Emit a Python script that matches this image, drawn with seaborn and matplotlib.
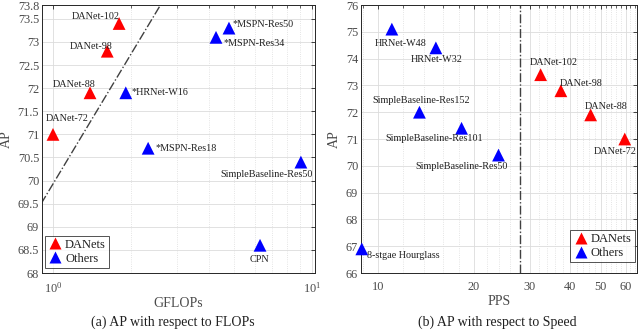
import numpy as np
import pandas as pd
import matplotlib
matplotlib.use("Agg")
import matplotlib.pyplot as plt
import seaborn as sns
from matplotlib.ticker import FixedLocator, NullFormatter, LogLocator, FuncFormatter

# ---------------- data ----------------
flops_models = ["DANet-72", "DANet-88", "DANet-98", "DANet-102",
                "*HRNet-W16", "*MSPN-Res18", "*MSPN-Res34", "*MSPN-Res50",
                "SimpleBaseline-Res50", "CPN"]
flops_groups = ["DANets"] * 4 + ["Others"] * 6
flops_gflops = [1.0, 1.39, 1.62, 1.80, 1.91, 2.33, 4.26, 4.78, 9.06, 6.3]
flops_ap = [71.0, 71.9, 72.8, 73.4, 71.9, 70.7, 73.1, 73.3, 70.4, 68.6]

speed_models = ["HRNet-W48", "HRNet-W32", "SimpleBaseline-Res152",
                "SimpleBaseline-Res101", "SimpleBaseline-Res50", "8-stgae Hourglass",
                "DANet-102", "DANet-98", "DANet-88", "DANet-72"]
speed_groups = ["Others"] * 6 + ["DANets"] * 4
speed_pps = [11.06, 15.2, 13.5, 18.3, 23.9, 8.9, 32.4, 37.5, 46.5, 59.5]
speed_ap = [75.1, 74.4, 72.0, 71.4, 70.4, 66.9, 73.4, 72.8, 71.9, 71.0]

divider_gflops = [0.9, 2.6]
divider_ap = [69.5, 73.8]
speed_threshold = 28

flops_yticks = [68, 68.5, 69, 69.5, 70, 70.5, 71, 71.5, 72, 72.5, 73, 73.5, 73.8]
speed_yticks = [66, 67, 68, 69, 70, 71, 72, 73, 74, 75, 76]
speed_xticks = [10, 20, 30, 40, 50, 60]

# ---------------- styles ----------------
label_offsets_a = {  # (dx px, dy px, ha)
    "DANet-72": (14, 16, "center"), "DANet-88": (5, 8, "right"),
    "DANet-98": (5, 5, "right"), "DANet-102": (1, 7, "right"),
    "*HRNet-W16": (6, 0, "left"), "*MSPN-Res18": (7, 0, "left"),
    "*MSPN-Res34": (7, -6, "left"), "*MSPN-Res50": (4, 4, "left"),
    "SimpleBaseline-Res50": (12, -12, "right"), "CPN": (-1, -14, "center"),
}
label_offsets_b = {
    "HRNet-W48": (9, -14, "center"), "HRNet-W32": (1, -12, "center"),
    "SimpleBaseline-Res152": (2, 12, "center"), "SimpleBaseline-Res101": (-27, -10, "center"),
    "SimpleBaseline-Res50": (-37, -11, "center"), "8-stgae Hourglass": (5, -7, "left"),
    "DANet-102": (13, 12, "center"), "DANet-98": (20, 7, "center"),
    "DANet-88": (15, 8, "center"), "DANet-72": (-10, -12, "center"),
}

sns.set_theme(style="white")
plt.rcParams["font.family"] = ["Liberation Serif", "DejaVu Serif"]
plt.rcParams["mathtext.fontset"] = "stix"

palette = {"DANets": "#ff0000", "Others": "#0000ff"}
TICK_C = "#4a4a4a"

fig = plt.figure(figsize=(6.4, 3.3), dpi=100)
axA = fig.add_axes([42 / 640, 57 / 330, 273 / 640, 268 / 330])
axB = fig.add_axes([361 / 640, 57 / 330, 276 / 640, 268 / 330])

dfA = pd.DataFrame({"model": flops_models, "group": flops_groups,
                    "x": flops_gflops, "ap": flops_ap})
dfB = pd.DataFrame({"model": speed_models, "group": speed_groups,
                    "x": speed_pps, "ap": speed_ap})


def style_axes(ax):
    ax.set_xscale("log")
    for s in ax.spines.values():
        s.set_visible(True)
        s.set_color("#262626")
        s.set_linewidth(0.7)
    ax.tick_params(which="both", direction="in", top=True, right=True,
                   colors="#262626", labelcolor=TICK_C, labelsize=8.8)
    ax.tick_params(axis="x", which="both", pad=6)
    ax.tick_params(axis="y", which="both", pad=2)
    ax.tick_params(which="major", length=3, width=0.6)
    ax.tick_params(which="minor", length=1.8, width=0.5)
    ax.grid(which="major", color="#dcdcdc", linewidth=0.6, linestyle="-")
    ax.grid(which="minor", axis="x", color="#dcdcdc", linewidth=0.6, linestyle=":")
    ax.set_axisbelow(True)


# ---- (a) ----
style_axes(axA)
sns.lineplot(x=divider_gflops, y=divider_ap, ax=axA, color="#404040",
             linestyle="-.", linewidth=1.0, legend=False)
sns.scatterplot(data=dfA, x="x", y="ap", hue="group", hue_order=["DANets", "Others"],
                palette=palette, marker="^", s=85, edgecolor="none", ax=axA, zorder=3)
axA.set_xlim(0.907, 10.27)
axA.set_ylim(68, 73.8)
axA.yaxis.set_major_locator(FixedLocator(flops_yticks))
axA.yaxis.set_major_formatter(FuncFormatter(lambda v, p: f"{v:g}"))
axA.xaxis.set_major_locator(LogLocator(base=10))
axA.xaxis.set_minor_locator(LogLocator(base=10, subs=np.arange(2, 10)))
axA.xaxis.set_minor_formatter(NullFormatter())
for m, x, y in zip(flops_models, flops_gflops, flops_ap):
    dx, dy, ha = label_offsets_a[m]
    axA.annotate(m, (x, y), xytext=(dx, dy), textcoords="offset pixels",
                 ha=ha, va="center", fontsize=7.3, color="#202020")
axA.set_xlabel("GFLOPs", fontsize=10, color=TICK_C)
axA.set_ylabel("AP", fontsize=10, color=TICK_C)
axA.xaxis.set_label_coords(0.5, -24 / 268)
axA.yaxis.set_label_coords(-29 / 273, 0.5)
legA = axA.legend(loc="lower left", bbox_to_anchor=(0.0, 0.01), fontsize=9,
                  frameon=True, fancybox=False, handletextpad=0.2, borderpad=0.25,
                  labelspacing=0.15, handlelength=1.2, borderaxespad=0.2)
legA.get_frame().set_edgecolor("#262626")
legA.get_frame().set_linewidth(0.7)
for t in legA.get_texts():
    t.set_color("#202020")

# ---- (b) ----
style_axes(axB)
axB.axvline(speed_threshold, color="#404040", linestyle="-.", linewidth=1.0)
sns.scatterplot(data=dfB, x="x", y="ap", hue="group", hue_order=["DANets", "Others"],
                palette=palette, marker="^", s=85, edgecolor="none", ax=axB, zorder=3,
                clip_on=False)
axB.set_xlim(8.85, 65)
axB.set_ylim(66, 76)
axB.yaxis.set_major_locator(FixedLocator(speed_yticks))
axB.xaxis.set_major_locator(FixedLocator(speed_xticks))
axB.xaxis.set_major_formatter(FuncFormatter(lambda v, p: f"{v:g}"))
minor_b = [v for v in range(9, 65) if (v % 2 == 0 or v == 9) and v not in speed_xticks]
axB.xaxis.set_minor_locator(FixedLocator(minor_b))
axB.xaxis.set_minor_formatter(NullFormatter())
for m, x, y in zip(speed_models, speed_pps, speed_ap):
    dx, dy, ha = label_offsets_b[m]
    axB.annotate(m, (x, y), xytext=(dx, dy), textcoords="offset pixels",
                 ha=ha, va="center", fontsize=7.3, color="#202020")
axB.set_xlabel("PPS", fontsize=10, color=TICK_C)
axB.set_ylabel("AP", fontsize=10, color=TICK_C)
axB.xaxis.set_label_coords(0.5, -22 / 268)
axB.yaxis.set_label_coords(-20 / 276, 0.5)
legB = axB.legend(loc="lower right", bbox_to_anchor=(1.0, 0.03), fontsize=9,
                  frameon=True, fancybox=False, handletextpad=0.2, borderpad=0.25,
                  labelspacing=0.15, handlelength=1.2, borderaxespad=0.2)
legB.get_frame().set_edgecolor("#262626")
legB.get_frame().set_linewidth(0.7)
for t in legB.get_texts():
    t.set_color("#202020")

fig.text(173 / 640, 1 - 322 / 330, "(a) AP with respect to FLOPs",
         ha="center", va="center", fontsize=10, color="#202020")
fig.text(497 / 640, 1 - 322 / 330, "(b) AP with respect to Speed",
         ha="center", va="center", fontsize=10, color="#202020")

fig.savefig("out.png", dpi=100)
